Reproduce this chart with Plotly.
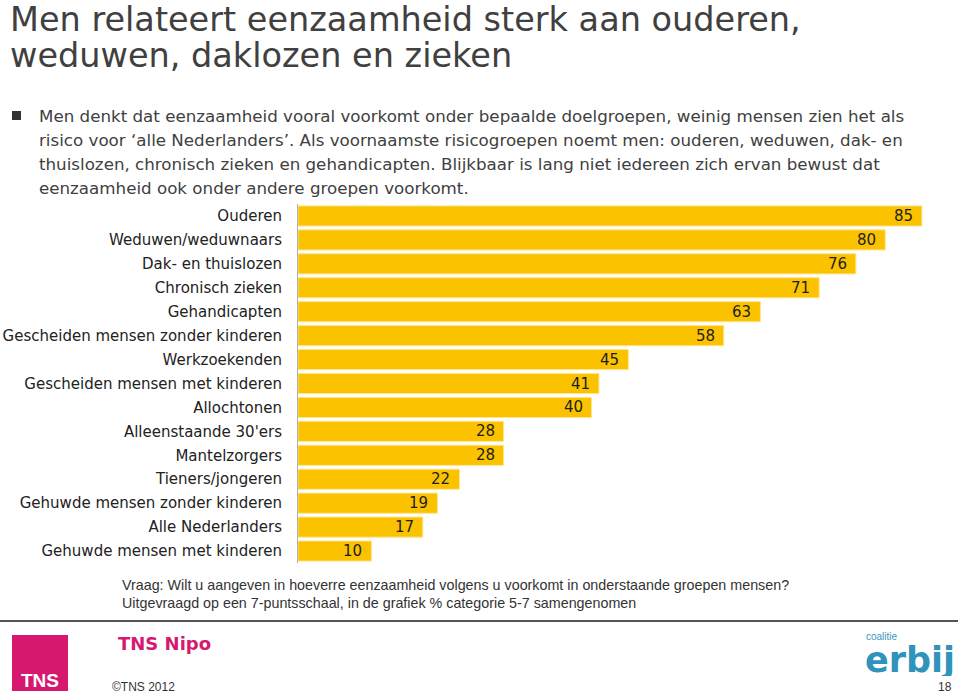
import plotly.graph_objects as go

categories = ["Ouderen", "Weduwen/weduwnaars", "Dak- en thuislozen", "Chronisch zieken",
              "Gehandicapten", "Gescheiden mensen zonder kinderen", "Werkzoekenden",
              "Gescheiden mensen met kinderen", "Allochtonen", "Alleenstaande 30'ers",
              "Mantelzorgers", "Tieners/jongeren", "Gehuwde mensen zonder kinderen",
              "Alle Nederlanders", "Gehuwde mensen met kinderen"]
values = [85, 80, 76, 71, 63, 58, 45, 41, 40, 28, 28, 22, 19, 17, 10]

title_lines = ["Men relateert eenzaamheid sterk aan ouderen,", "weduwen, daklozen en zieken"]
bullet_lines = [
    "Men denkt dat eenzaamheid vooral voorkomt onder bepaalde doelgroepen, weinig mensen zien het als",
    "risico voor \u2018alle Nederlanders\u2019. Als voornaamste risicogroepen noemt men: ouderen, weduwen, dak- en",
    "thuislozen, chronisch zieken en gehandicapten. Blijkbaar is lang niet iedereen zich ervan bewust dat",
    "eenzaamheid ook onder andere groepen voorkomt.",
]
notes = ["Vraag: Wilt u aangeven in hoeverre eenzaamheid volgens u voorkomt in onderstaande groepen mensen?",
         "Uitgevraagd op een 7-puntsschaal, in de grafiek % categorie 5-7 samengenomen"]

WID, HGT = 960, 693
L, R, T, B = 298, 2, 204, 130
PW, PH = WID - L - R, HGT - T - B
PX_PER_UNIT = 7.34

def px(x):
    return (x - L) / PW

def py(y):
    return (HGT - B - y) / PH

BAR = "#FBC200"

fig = go.Figure()
fig.add_trace(go.Bar(
    x=values, y=categories, orientation="h",
    marker=dict(color=BAR, line=dict(color="#FFE48A", width=1)),
    width=0.84, hoverinfo="skip",
))

annotations = []
for c, v in zip(categories, values):
    annotations.append(dict(x=v, y=c, xref="x", yref="y", text=str(v), showarrow=False,
                            xanchor="right", yanchor="middle", xshift=-7,
                            font=dict(family="DejaVu Sans", size=15, color="#1E1E1E")))

# title
for i, t in enumerate(title_lines):
    annotations.append(dict(x=px(8), y=py(19 + 36 * i), xref="paper", yref="paper", text=t,
                            showarrow=False, xanchor="left", yanchor="middle", height=33,
                            font=dict(family="DejaVu Sans", size=33.5, color="#404040")))
# bullet text
for i, t in enumerate(bullet_lines):
    annotations.append(dict(x=px(37), y=py(116 + 24 * i), xref="paper", yref="paper", text=t,
                            showarrow=False, xanchor="left", yanchor="middle",
                            font=dict(family="DejaVu Sans", size=16.7, color="#404040")))
# notes
for i, t in enumerate(notes):
    annotations.append(dict(x=px(120), y=py(585 + 18 * i), xref="paper", yref="paper", text=t,
                            showarrow=False, xanchor="left", yanchor="middle",
                            font=dict(family="Liberation Sans", size=14.3, color="#333333")))
# footer texts
annotations += [
    dict(x=px(116), y=py(643), xref="paper", yref="paper", text="<b>TNS Nipo</b>", showarrow=False,
         xanchor="left", yanchor="middle", font=dict(family="DejaVu Sans", size=18, color="#D6186F")),
    dict(x=px(110), y=py(687), xref="paper", yref="paper", text="\u00a9TNS 2012", showarrow=False,
         xanchor="left", yanchor="middle", font=dict(family="Liberation Sans", size=12, color="#333333")),
    dict(x=px(954), y=py(687), xref="paper", yref="paper", text="18", showarrow=False,
         xanchor="right", yanchor="middle", font=dict(family="Liberation Sans", size=12, color="#333333")),
    dict(x=px(40), y=py(680), xref="paper", yref="paper", text="<b>TNS</b>", showarrow=False,
         xanchor="center", yanchor="middle", font=dict(family="Liberation Sans Narrow, Liberation Sans", size=19, color="white")),
    dict(x=px(882), y=py(636), xref="paper", yref="paper", text="coalitie", showarrow=False,
         xanchor="center", yanchor="middle", height=10,
         font=dict(family="Liberation Sans", size=10, color="#3B98BE")),
    dict(x=px(910), y=py(660), xref="paper", yref="paper", text="<b>erbij</b>", showarrow=False,
         xanchor="center", yanchor="middle", height=32,
         font=dict(family="DejaVu Sans", size=35, color="#2F93BB")),
]

shapes = [
    dict(type="rect", xref="paper", yref="paper", x0=px(12), x1=px(21), y0=py(120), y1=py(111),
         fillcolor="#333333", line=dict(width=0)),
    dict(type="line", xref="paper", yref="paper", x0=px(0), x1=px(958), y0=py(621), y1=py(621),
         line=dict(color="#555555", width=2)),
    dict(type="rect", xref="paper", yref="paper", x0=px(12), x1=px(68), y0=py(691), y1=py(635),
         fillcolor="#D6186F", line=dict(width=0)),
]

fig.update_layout(
    width=WID, height=HGT, margin=dict(l=L, r=R, t=T, b=B),
    paper_bgcolor="white", plot_bgcolor="white", showlegend=False,
    xaxis=dict(range=[0, PW / PX_PER_UNIT], visible=False, fixedrange=True),
    yaxis=dict(categoryorder="array", categoryarray=categories[::-1], range=[-0.5, 14.5],
               showline=True, linecolor="#B0B0B0", linewidth=1, ticks="", ticklabelstandoff=12,
               showgrid=False, zeroline=False,
               tickfont=dict(family="DejaVu Sans", size=15, color="#222222")),
    annotations=annotations, shapes=shapes, bargap=0.16,
)

fig.write_html("out.html")
